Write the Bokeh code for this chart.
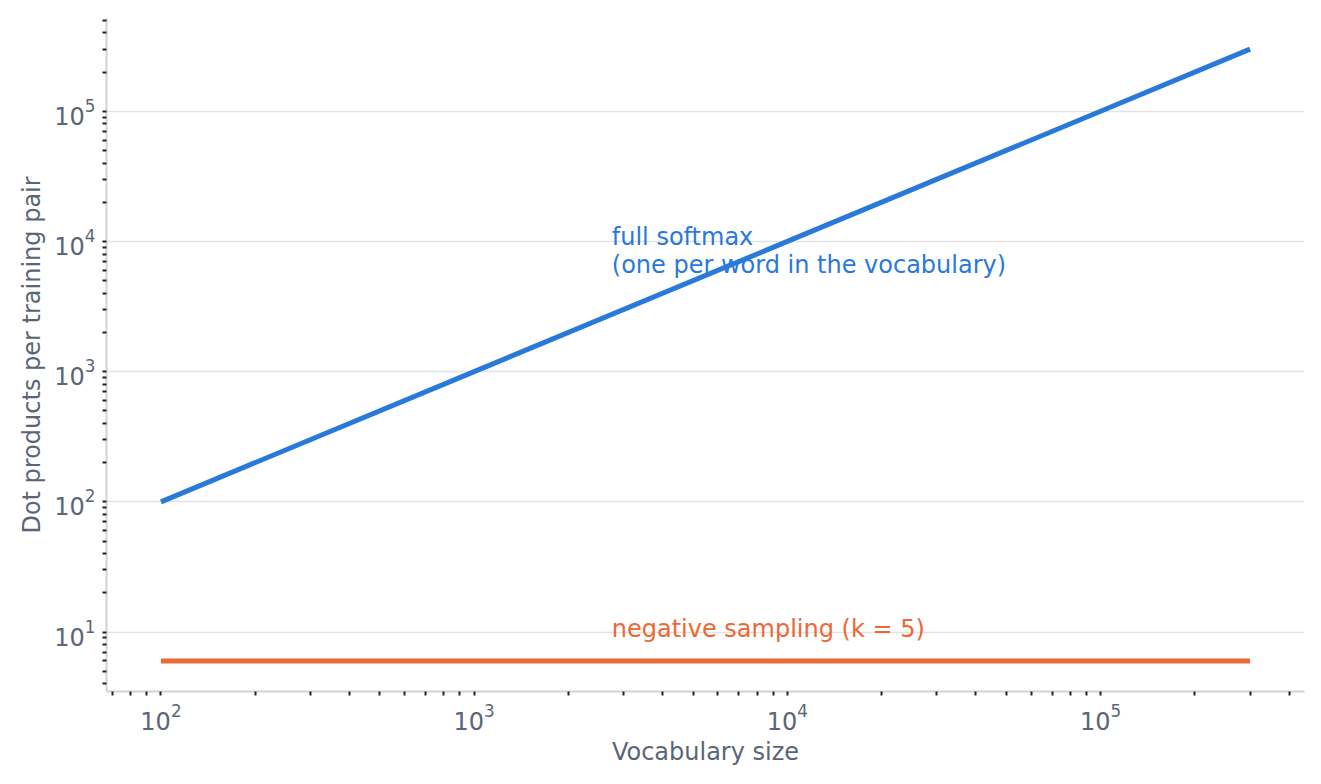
from bokeh.plotting import figure
from bokeh.models import Label
from bokeh.embed import file_html
from bokeh.resources import INLINE

# ---- data ----
vocab_size = [100, 1000, 10000, 100000, 300000]
full_softmax = [100, 1000, 10000, 100000, 300000]
negative_sampling = [6, 6, 6, 6, 6]

label_full_1 = "full softmax"
label_full_2 = "(one per word in the vocabulary)"
label_neg = "negative sampling (k = 5)"
x_title = "Vocabulary size"
y_title = "Dot products per training pair"

# ---- styles ----
BLUE = "#2979d8"
ORANGE = "#eb6837"
GRAY_TEXT = "#5a6676"
AXIS_LINE = "#d3d3cc"
GRID = "#e3e3e0"
FONT = "DejaVu Sans"

p = figure(width=1313, height=776, x_axis_type="log", y_axis_type="log",
           output_backend="svg", toolbar_location=None,
           min_border_left=106, min_border_right=9, min_border_top=18, min_border_bottom=85)
p.outline_line_color = None
p.background_fill_color = "white"
p.border_fill_color = "white"

p.line(vocab_size, full_softmax, line_width=5, color=BLUE)
p.line(vocab_size, negative_sampling, line_width=5, color=ORANGE)

p.xgrid.grid_line_color = None
p.ygrid.grid_line_color = GRID
p.ygrid.grid_line_width = 1.5

for ax in (p.xaxis[0], p.yaxis[0]):
    ax.axis_line_color = AXIS_LINE
    ax.axis_line_width = 2
    ax.major_tick_line_color = None
    ax.minor_tick_line_color = "#222222"
    ax.minor_tick_line_width = 2
    ax.minor_tick_out = 4
    ax.minor_tick_in = 0
    ax.major_label_text_font = FONT
    ax.major_label_text_font_size = "24px"
    ax.major_label_text_color = GRAY_TEXT
    ax.axis_label_text_font = FONT
    ax.axis_label_text_font_size = "24px"
    ax.axis_label_text_font_style = "normal"
    ax.axis_label_text_color = GRAY_TEXT

p.xaxis.axis_label = x_title
p.yaxis.axis_label = y_title

p.add_layout(Label(x=2750, y=10870, text=label_full_1, text_font=FONT, text_font_size="24px",
                   text_color=BLUE, text_baseline="alphabetic"))
p.add_layout(Label(x=2750, y=6560, text=label_full_2, text_font=FONT, text_font_size="24px",
                   text_color=BLUE, text_baseline="alphabetic"))
p.add_layout(Label(x=2750, y=10.56, text=label_neg, text_font=FONT, text_font_size="24px",
                   text_color=ORANGE, text_baseline="alphabetic"))

open("out.html", "w").write(file_html(p, INLINE))
